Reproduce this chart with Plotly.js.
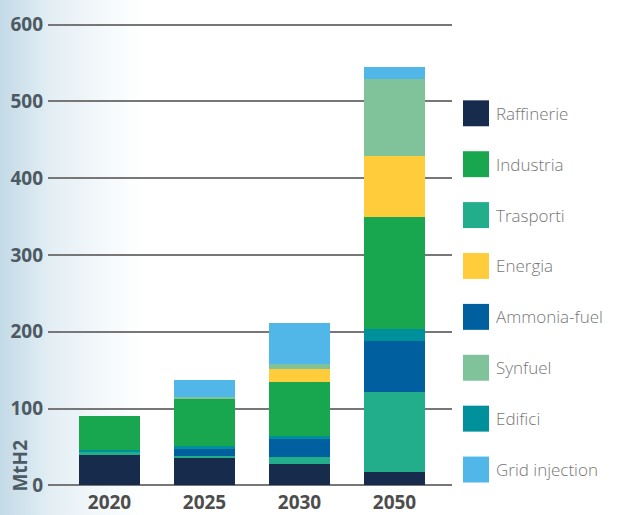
<!DOCTYPE html>
<html>
<head>
<meta charset="utf-8">
<script src="https://cdn.plot.ly/plotly-3.0.1.min.js"></script>
<style>
  html, body { margin: 0; padding: 0; background: #fff; }
  #chart { width: 617px; height: 515px;
    background: linear-gradient(to right, #c3dae7 0px, #e3eef4 50px, #f6fafc 110px, #ffffff 145px, #ffffff 617px); }
</style>
</head>
<body>
<div id="chart"></div>
<script>
// ---- data ----
const years = ["2020", "2025", "2030", "2050"];
const seriesNames = ["Raffinerie", "Trasporti", "Ammonia-fuel", "Edifici", "Industria", "Energia", "Synfuel", "Grid injection"];
const raffinerie   = [40, 36, 28, 17];
const trasporti    = [3.5, 2.6, 9, 105];
const ammoniaFuel  = [0, 9, 23, 66];
const edifici      = [3, 4, 5, 16];
const industria    = [44, 61, 70, 145];
const energia      = [0, 0, 17, 80];
const synfuel      = [0, 2.6, 6.5, 100];
const gridInjection = [0, 22, 53, 16];
const yTicks = [0, 100, 200, 300, 400, 500, 600];
const legendOrder = ["Raffinerie", "Industria", "Trasporti", "Energia", "Ammonia-fuel", "Synfuel", "Edifici", "Grid injection"];

const colors = {
  "Raffinerie": "#172c4c",
  "Trasporti": "#23ae8b",
  "Ammonia-fuel": "#005f9f",
  "Edifici": "#00909b",
  "Industria": "#18a74e",
  "Energia": "#ffcd3b",
  "Synfuel": "#80c39a",
  "Grid injection": "#51b7e8"
};
const values = [raffinerie, trasporti, ammoniaFuel, edifici, industria, energia, synfuel, gridInjection];

const traces = seriesNames.map((name, i) => ({
  type: "bar",
  name: name,
  x: years,
  y: values[i],
  marker: { color: colors[name], line: { width: 0 } },
  width: 0.64,
  showlegend: false,
  hoverinfo: "x+y+name"
}));

// plot area geometry (pixels)
const W = 617, H = 515;
const mL = 48, mR = W - 452, mT = 22.5, mB = 27.5;
const plotW = W - mL - mR, plotH = H - mT - mB;
const px2x = px => (px - mL) / plotW;
const py2y = py => (H - mB - py) / plotH;

// manual legend built from series names & colours
const shapes = [], annotations = [];
legendOrder.forEach((name, i) => {
  const cy = 113 + i * 51;
  shapes.push({
    type: "rect", xref: "paper", yref: "paper",
    x0: px2x(463), x1: px2x(489), y0: py2y(cy + 13), y1: py2y(cy - 13),
    fillcolor: colors[name], line: { width: 0 }
  });
  annotations.push({
    xref: "paper", yref: "paper", x: px2x(494), y: py2y(cy),
    xanchor: "left", yanchor: "middle", showarrow: false,
    text: name, font: { family: "Open Sans, sans-serif", size: 17, color: "#777777", weight: 300 }
  });
});
annotations.push({
  xref: "paper", yref: "paper", x: px2x(20), y: py2y(466),
  xanchor: "center", yanchor: "middle", showarrow: false, textangle: -90,
  text: "MtH2", font: { family: "Open Sans, sans-serif", size: 19, color: "#4d5a63", weight: 700 }
});

const layout = {
  width: W, height: H,
  margin: { l: mL, r: mR, t: mT, b: mB, pad: 0 },
  paper_bgcolor: "rgba(0,0,0,0)",
  plot_bgcolor: "rgba(0,0,0,0)",
  barmode: "stack",
  showlegend: false,
  xaxis: {
    type: "category",
    range: [(48 - 109.5) / 95, (452 - 109.5) / 95],
    showgrid: false, zeroline: false, showline: false, ticks: "",
    ticklabelstandoff: 2,
    tickfont: { family: "Open Sans, sans-serif", size: 19, color: "#4d4d4d", weight: 700 },
    fixedrange: true
  },
  yaxis: {
    range: [-2, 602],
    tickvals: yTicks,
    ticktext: yTicks.map(String),
    showgrid: true, gridcolor: "#777777", gridwidth: 2,
    zeroline: false, showline: false, ticks: "",
    ticklabelstandoff: 4,
    tickfont: { family: "Open Sans, sans-serif", size: 19, color: "#4d5a63", weight: 700 },
    fixedrange: true
  },
  shapes: shapes,
  annotations: annotations
};

Plotly.newPlot("chart", traces, layout, { displayModeBar: false, staticPlot: true });
</script>
</body>
</html>
